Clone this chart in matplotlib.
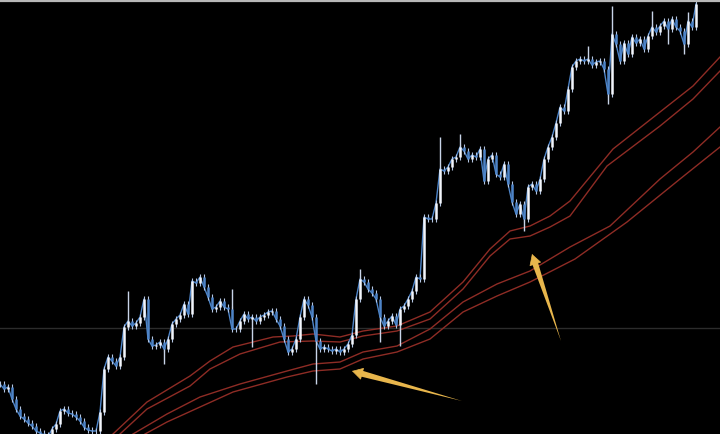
import numpy as np
import matplotlib
matplotlib.use('Agg')
from matplotlib import pyplot as plt

# screen-like price scale (axis is inverted, smaller value = higher on chart)
bar_step = 4
close = [385, 390, 388, 400, 410, 417, 420, 424, 427, 432,
         434, 436, 438, 430, 425, 412, 410, 414, 415, 418,
         422, 428, 431, 432, 432, 413, 370, 358, 362, 367,
         358, 328, 322, 327, 324, 318, 300, 340, 347, 346,
         343, 350, 340, 325, 320, 316, 305, 315, 282, 284,
         278, 288, 298, 310, 308, 302, 308, 310, 330, 330,
         322, 315, 320, 318, 322, 318, 316, 313, 312, 320,
         327, 340, 353, 350, 340, 318, 300, 306, 318, 342,
         350, 348, 350, 352, 350, 353, 350, 345, 336, 300,
         280, 283, 290, 294, 300, 318, 327, 322, 317, 326,
         310, 307, 300, 292, 278, 280, 218, 220, 220, 204,
         170, 172, 168, 160, 158, 148, 152, 160, 156, 158,
         150, 182, 160, 156, 175, 178, 165, 185, 203, 215,
         205, 220, 188, 185, 192, 180, 160, 148, 138, 124,
         108, 112, 90, 68, 62, 60, 62, 60, 66, 63,
         62, 70, 95, 35, 45, 62, 44, 55, 38, 44,
         40, 50, 37, 28, 33, 27, 22, 30, 20, 28,
         32, 45, 22, 28, 5]

# long wicks (bar index, extreme value)
wick_bar = [32, 79, 152, 153, 163, 110, 115, 131, 58, 90, 100, 95, 41, 63, 147, 172, 167, 171]
wick_end = [292, 385, 105, 7, 12, 138, 135, 232, 290, 270, 347, 343, 365, 348, 47, 13, 45, 55]

# four envelope lines
env_a_x = [113, 147, 190, 210, 233, 273, 293, 313, 340, 363, 397, 430, 463, 490, 510, 530, 550, 570, 613, 660, 693, 720]
env_a_y = [435, 403, 377, 362, 348, 338, 337, 335, 338, 332, 327, 313, 283, 250, 232, 227, 217, 202, 150, 113, 87, 58]
env_b_x = [120, 147, 190, 210, 240, 280, 313, 340, 363, 397, 430, 463, 490, 510, 530, 550, 570, 607, 660, 693, 720]
env_b_y = [435, 410, 387, 370, 355, 343, 342, 343, 337, 332, 320, 290, 257, 240, 237, 228, 217, 167, 127, 100, 72]
env_c_x = [133, 167, 200, 240, 287, 313, 340, 363, 397, 430, 463, 497, 530, 570, 610, 660, 693, 720]
env_c_y = [435, 415, 398, 385, 372, 365, 363, 353, 347, 330, 303, 285, 272, 248, 227, 180, 153, 128]
env_d_x = [145, 167, 233, 287, 313, 340, 363, 397, 430, 463, 497, 530, 575, 627, 680, 720]
env_d_y = [435, 423, 393, 378, 372, 370, 360, 353, 340, 313, 297, 283, 260, 223, 180, 148]

# arrows: (head, tail)
arrows = [((352, 372), (462, 402)), ((532, 255), (561, 342))]

fig = plt.figure(figsize=(7.2, 4.35), dpi=100)
fig.patch.set_facecolor('black')
ax = fig.add_axes([0, 0, 1, 1])
ax.set_facecolor('black')
ax.set_xlim(0, 720)
ax.set_ylim(435, 0)
ax.axis('off')

ax.axhline(329, color='#2c2c2c', lw=1, zorder=1)
ax.axhline(1.5, color='#b8b8b8', lw=1.6, zorder=5)

for xs, ys in [(env_a_x, env_a_y), (env_b_x, env_b_y), (env_c_x, env_c_y), (env_d_x, env_d_y)]:
    ax.plot(xs, ys, color='#8e2c25', lw=1.0, zorder=2)

c = np.array(close, dtype=float)
o = np.r_[c[0], c[:-1]]
x = np.arange(len(c)) * bar_step
up = c < o
lo = np.maximum(o, c)
hi = np.minimum(o, c)

# thin price trace joining the bars
ax.plot(x, c, color='#4d84c8', lw=1.0, zorder=3)
# short wicks on every bar
ax.vlines(x, hi - 3, lo + 3, color='#b4c6e2', lw=0.8, zorder=3)
ax.vlines(x[up], o[up], c[up], color='#f2f5fb', lw=1.8, zorder=4)
ax.vlines(x[~up], o[~up], c[~up], color='#4d84c8', lw=1.8, zorder=4)
for i, e in zip(wick_bar, wick_end):
    base = hi[i] if e < hi[i] else lo[i]
    ax.vlines(x[i], base, e, color='#c8d4e8', lw=1.0, zorder=3)

gold = '#e8b64c'
for head, tail in arrows:
    h = np.array(head, float)
    t = np.array(tail, float)
    d = (t - h) / np.hypot(*(t - h))
    ax.annotate('', xy=tail, xytext=tuple(h + d * 6),
                arrowprops=dict(arrowstyle='wedge,tail_width=0.45,shrink_factor=0.5',
                                fc=gold, ec='none', shrinkA=0, shrinkB=0), zorder=5)
    ax.annotate('', xy=head, xytext=tuple(h + d * 14),
                arrowprops=dict(arrowstyle='-|>,head_length=0.7,head_width=0.4',
                                fc=gold, ec=gold, lw=0.5, shrinkA=0, shrinkB=0), zorder=5)

fig.savefig('out.png', dpi=100, facecolor='black')
